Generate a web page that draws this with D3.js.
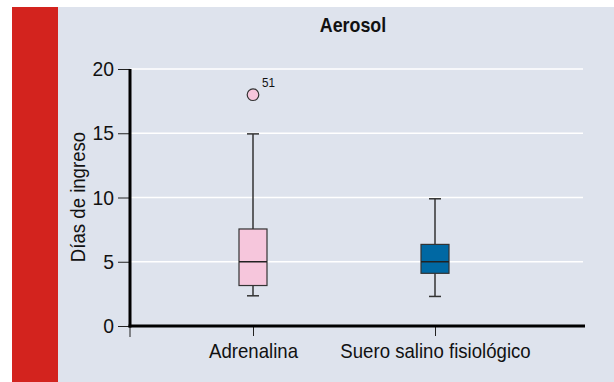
<!DOCTYPE html>
<html><head><meta charset="utf-8">
<script src="https://cdn.jsdelivr.net/npm/d3@7"></script>
<style>body{margin:0;background:#fff}svg{display:block;font-family:"Liberation Sans",Arial,sans-serif}</style>
</head><body><svg id="c" width="614" height="382"></svg>
<script>
const categories = ["Adrenalina", "Suero salino fisiológico"];
const whiskerLow = [2.35, 2.3];
const q1 = [3.15, 4.1];
const median = [5, 5];
const q3 = [7.55, 6.35];
const whiskerHigh = [14.95, 9.9];
const outliers = [{cat: "Adrenalina", value: 18, label: "51"}];
const colors = ["#f6c6dc", "#0068a3"];
const yTicks = [0, 5, 10, 15, 20];

// condense text horizontally (source font is a condensed grotesque)
function condense(sel, k){
  sel.each(function(){
    const w = this.getComputedTextLength();
    d3.select(this).attr("textLength", w*k).attr("lengthAdjust","spacingAndGlyphs");
  });
}

const svg = d3.select("#c");
svg.append("rect").attr("x",58).attr("y",7).attr("width",556).attr("height",375).attr("fill","#dee3ed");
svg.append("rect").attr("x",12).attr("y",7).attr("width",46).attr("height",375).attr("fill","#d3231e");

const y = d3.scaleLinear().domain([0,20]).range([326,69]);
const x = d3.scalePoint().domain(categories).range([253,435]);
const x0 = 130, x1 = 585;

// grid
svg.append("g").selectAll("line").data(yTicks.filter(d=>d>0)).join("line")
  .attr("x1",x0).attr("x2",x1-2).attr("y1",d=>y(d)).attr("y2",d=>y(d))
  .attr("stroke","#fff").attr("stroke-width",1.5);

// y axis
const ya = svg.append("g").attr("transform",`translate(${x0},0)`)
  .call(d3.axisLeft(y).tickValues(yTicks).tickSize(12).tickPadding(4));
ya.select(".domain").remove();
ya.selectAll(".tick line").attr("stroke","#222");
ya.selectAll(".tick text").attr("font-size",21).attr("fill","#111").attr("font-family",null).call(condense, 0.92);

// x axis
const xa = svg.append("g").attr("transform",`translate(0,${y(0)})`)
  .call(d3.axisBottom(x).tickSize(10).tickPadding(0));
xa.select(".domain").remove();
xa.selectAll(".tick line").attr("stroke","#222");
xa.selectAll(".tick text").attr("font-size",21).attr("fill","#111").attr("font-family",null)
  .attr("dy",null).attr("y",32).call(condense, 0.886);
svg.append("line").attr("x1",x0).attr("x2",x0).attr("y1",y(0)).attr("y2",y(0)+11).attr("stroke","#222");

// axis lines
svg.append("line").attr("x1",x0).attr("x2",x0).attr("y1",y(20)).attr("y2",y(0)+1.5).attr("stroke","#000").attr("stroke-width",3);
svg.append("line").attr("x1",x0-1.5).attr("x2",x1).attr("y1",y(0)).attr("y2",y(0)).attr("stroke","#000").attr("stroke-width",3);

// boxes
const bw = 28, cap = 12;
const g = svg.append("g");
categories.forEach((c,i)=>{
  const cx = x(c);
  g.append("line").attr("x1",cx).attr("x2",cx).attr("y1",y(whiskerLow[i])).attr("y2",y(whiskerHigh[i])).attr("stroke","#333").attr("stroke-width",1.5);
  [whiskerLow[i], whiskerHigh[i]].forEach(v=>{
    g.append("line").attr("x1",cx-cap/2).attr("x2",cx+cap/2).attr("y1",y(v)).attr("y2",y(v)).attr("stroke","#333").attr("stroke-width",1.5);
  });
  g.append("rect").attr("x",cx-bw/2).attr("y",y(q3[i])).attr("width",bw).attr("height",y(q1[i])-y(q3[i]))
    .attr("fill",colors[i]).attr("stroke","#333").attr("stroke-width",1.2);
  g.append("line").attr("x1",cx-bw/2).attr("x2",cx+bw/2).attr("y1",y(median[i])).attr("y2",y(median[i])).attr("stroke","#222").attr("stroke-width",1.5);
});
outliers.forEach(o=>{
  const i = categories.indexOf(o.cat);
  g.append("circle").attr("cx",x(o.cat)).attr("cy",y(o.value)).attr("r",5.8).attr("fill",colors[i]).attr("stroke","#333").attr("stroke-width",1.2);
  g.append("text").attr("x",x(o.cat)+9).attr("y",y(o.value)-8).attr("font-size",13).attr("fill","#111").text(o.label).call(condense, 0.9);
});

svg.append("text").attr("x",353).attr("y",32).attr("text-anchor","middle").attr("font-size",21).attr("font-weight","bold").attr("fill","#111").text("Aerosol").call(condense, 0.85);
svg.append("text").attr("transform","translate(85,197) rotate(-90)").attr("text-anchor","middle").attr("font-size",20).attr("fill","#111").text("Días de ingreso").call(condense, 0.93);
</script></body></html>
